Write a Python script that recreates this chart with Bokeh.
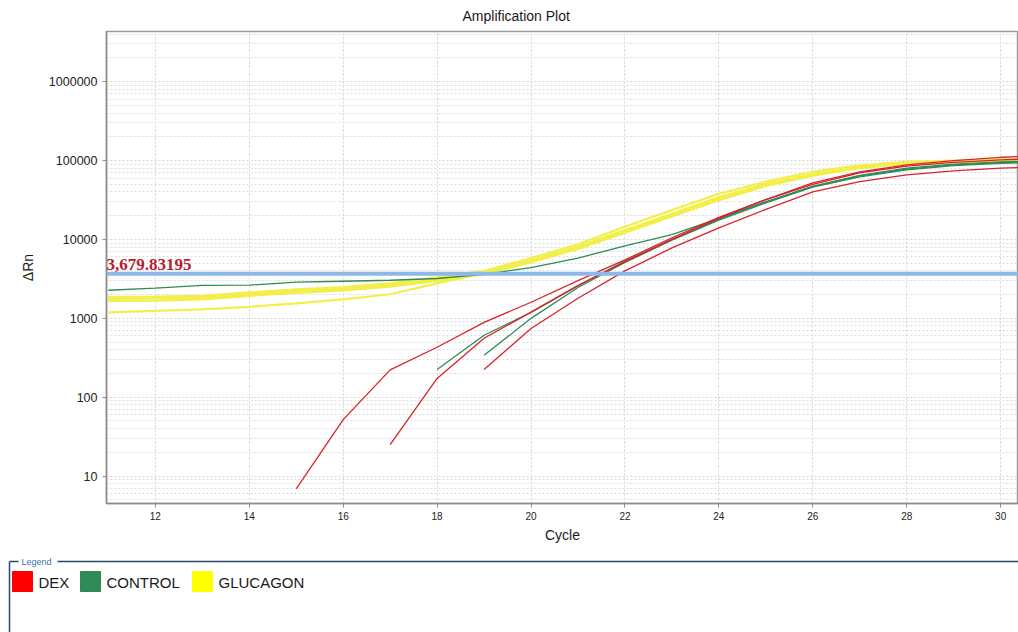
from bokeh.plotting import figure
from bokeh.models import Range1d, FixedTicker, Label, Span, NumeralTickFormatter
from bokeh.layouts import column
from bokeh.embed import file_html
from bokeh.resources import INLINE
from bokeh.core.properties import value

# ---------------- data ----------------
title_text = "Amplification Plot"
x_label = "Cycle"
y_label = "ΔRn"
threshold = 3679.83195
threshold_label = "3,679.83195"
legend_title = "Legend"

x_ticks = [12, 14, 16, 18, 20, 22, 24, 26, 28, 30]
y_ticks = [10, 100, 1000, 10000, 100000, 1000000]

groups = ["DEX", "CONTROL", "GLUCAGON"]
group_colors = ["#ff0000", "#2e8b57", "#ffff00"]
line_colors = ["#d8232a", "#2e8b57", "#f2ef4a"]

# DEX curves (start cycle, values)
dex_start = [15, 17, 19]
dex_values = [
    [6.9, 52, 222, 430, 890, 1600, 3000, 5500, 10500, 19000, 32000, 52000, 72000, 88000, 100000, 110000, 115000],
    [25, 173, 560, 1200, 2600, 5200, 10000, 18500, 32000, 50000, 70000, 85000, 95000, 102000, 107000],
    [225, 745, 1800, 4000, 7800, 14000, 24000, 40000, 54000, 66000, 74000, 80000, 83000],
]

# CONTROL curves
control_start = [11, 18, 19]
control_values = [
    [2270, 2420, 2620, 2640, 2870, 2950, 3040, 3200, 3600, 4400, 5800, 8300, 11500, 18500, 30000, 47000, 65000, 80000, 90000, 96000, 100000],
    [225, 610, 1190, 2600, 5300, 10000, 18000, 30000, 47000, 64000, 78000, 88000, 94000, 98000],
    [340, 1000, 2460, 5100, 9800, 17500, 29000, 46000, 62000, 76000, 86000, 92000, 96000],
]

# GLUCAGON curves
glucagon_start = [11, 11, 11, 11]
glucagon_values = [
    [1870, 1890, 1930, 2130, 2330, 2480, 2780, 3300, 4000, 5800, 8700, 14500, 23500, 38000, 54000, 72000, 87000, 96000, 100000, 103000, 105000],
    [1760, 1790, 1830, 2010, 2210, 2360, 2630, 3120, 3780, 5450, 8100, 13200, 21200, 34500, 50500, 67500, 82500, 93000, 98000, 101000, 103000],
    [1660, 1680, 1740, 1930, 2100, 2260, 2530, 2980, 3620, 5150, 7600, 12200, 19500, 31500, 47500, 64500, 80000, 91000, 96000, 99000, 101000],
    [1190, 1240, 1300, 1400, 1550, 1740, 2020, 2780, 3740, 5200, 7800, 12800, 20500, 33000, 49000, 66000, 81000, 92000, 97000, 100000, 102000],
]

# ---------------- main plot ----------------
FONT = "Liberation Sans"

p = figure(width=1018, height=555, output_backend="svg", toolbar_location=None,
           x_range=Range1d(10.96, 30.38), y_range=Range1d(4.5, 4.32e6),
           y_axis_type="log", min_border_left=106, min_border_right=0,
           min_border_top=31, min_border_bottom=52)
p.frame_align = False
p.title.text = title_text
p.title.text_font = FONT
p.title.text_font_size = "14px"
p.title.text_font_style = "normal"
p.title.text_color = "#1a1a1a"
p.title.align = "left"
p.title.offset = 356
p.title.vertical_align = "top"
p.title.standoff = 12

p.outline_line_color = "#9a9a9a"
p.outline_line_width = 1.5
p.background_fill_color = "white"
p.border_fill_color = "white"

minor = [k * 10 ** d for d in range(0, 7) for k in range(2, 10)]
p.yaxis.ticker = FixedTicker(ticks=y_ticks, minor_ticks=minor)
p.yaxis.formatter = NumeralTickFormatter(format="0")
p.xaxis.ticker = FixedTicker(ticks=x_ticks)

for ax in (p.xaxis, p.yaxis):
    ax.axis_line_color = "#8c8c8c"
    ax.axis_line_width = 1.5
    ax.major_tick_line_color = "#8c8c8c"
    ax.major_tick_out = 4
    ax.major_tick_in = 0
    ax.minor_tick_line_color = None
    ax.major_label_text_font = FONT
    ax.major_label_text_color = "#222222"
    ax.axis_label_text_font = FONT
    ax.axis_label_text_font_style = "normal"
    ax.axis_label_text_font_size = "14px"
    ax.axis_label_text_color = "#1a1a1a"

p.yaxis.major_label_text_font_size = "12.5px"
p.xaxis.major_label_text_font_size = "10px"
p.yaxis.axis_label = y_label
p.xaxis.axis_label = x_label
p.yaxis.major_label_standoff = 5
p.yaxis.axis_label_standoff = 10
p.xaxis.major_label_standoff = 4
p.xaxis.axis_label_standoff = 4

p.xgrid.grid_line_color = "#d4d4d4"
p.xgrid.grid_line_dash = "2 2"
p.ygrid.grid_line_color = "#d4d4d4"
p.ygrid.grid_line_dash = "2 2"
p.ygrid.minor_grid_line_color = "#dcdcdc"
p.ygrid.minor_grid_line_dash = "2 2"


def draw(starts, values, color, width, alpha=1.0):
    for s, v in zip(starts, values):
        xs = list(range(s, s + len(v)))
        p.line(xs, v, line_color=color, line_width=width, line_alpha=alpha)


draw(glucagon_start, glucagon_values, line_colors[2], 2.2)
draw(control_start, control_values, line_colors[1], 1.3)
draw(dex_start, dex_values, line_colors[0], 1.3)

thr = Span(location=threshold, dimension="width", line_color="#8db8e8", line_width=4)
p.add_layout(thr)
p.add_layout(Label(x=10.96, y=threshold, text=threshold_label, text_font="Liberation Serif",
                   text_font_style="bold", text_font_size="17px", text_color="#b5202b",
                   text_baseline="alphabetic", y_offset=9, x_offset=0))

# ---------------- legend panel ----------------
lg = figure(width=1018, height=77, output_backend="svg", toolbar_location=None,
            x_range=Range1d(0, 1018), y_range=Range1d(77, 0),
            x_axis_location=None, y_axis_location=None,
            min_border=0, min_border_left=0, min_border_right=0,
            min_border_top=0, min_border_bottom=0)
lg.frame_align = False
lg.grid.visible = False
lg.outline_line_color = None
lg.background_fill_color = "white"
lg.border_fill_color = "white"

box_color = "#2c4a66"
lg.segment(x0=[9, 9, 57], y0=[6, 6, 6], x1=[9, 18, 1018], y1=[80, 6, 6],
           line_color=box_color, line_width=1.5)
lg.text(x=[21], y=[6], text=[legend_title], text_font=value(FONT), text_font_size="9px",
        text_color="#3a74b0", text_baseline="middle", text_align="left")

sq_x = [12, 80, 192]
tx_x = [38, 106, 218]
lg.quad(left=sq_x, right=[x + 20 for x in sq_x], top=[16] * 3, bottom=[36] * 3,
        fill_color=group_colors, line_color=group_colors)
lg.text(x=tx_x, y=[26.5] * 3, text=groups, text_font=value(FONT), text_font_size="15px",
        text_color="#1a1a1a", text_baseline="middle", text_align="left")

layout = column(p, lg, spacing=0)
open("out.html", "w").write(file_html(layout, INLINE))
